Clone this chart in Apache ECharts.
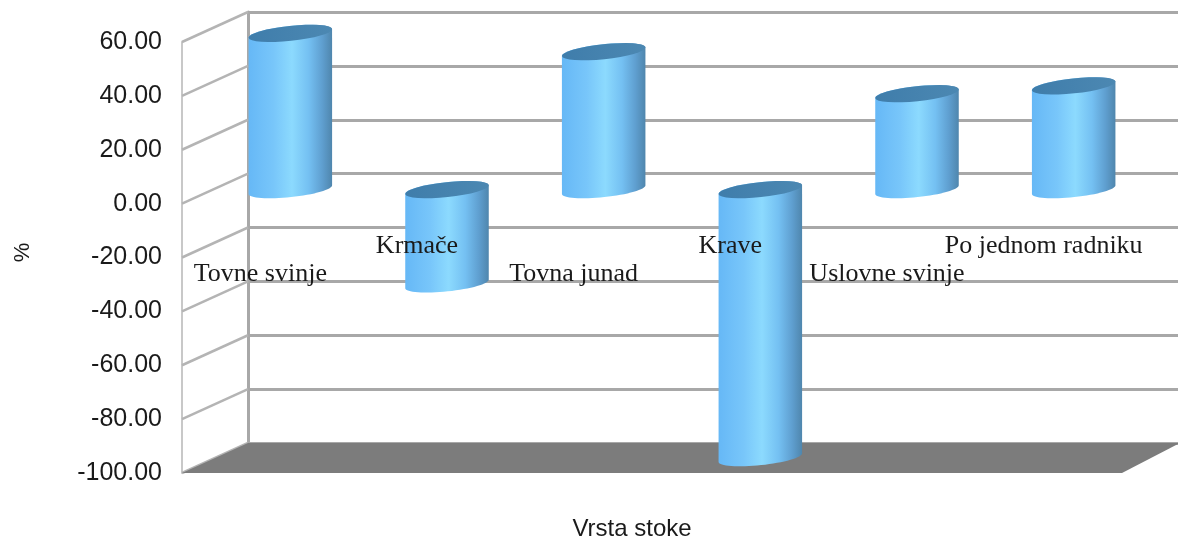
<!DOCTYPE html>
<html>
<head>
<meta charset="utf-8">
<style>
  html, body { margin: 0; padding: 0; background: #fff; }
  #chart { width: 1178px; height: 536px; }
</style>
<script src="https://cdn.jsdelivr.net/npm/echarts@6/dist/echarts.min.js"></script>
</head>
<body>
<div id="chart"></div>
<script>
const categories = ['Tovne svinje', 'Krmače', 'Tovna junad', 'Krave', 'Uslovne svinje', 'Po jednom radniku']
const values = [58, -35, 51.2, -99.5, 35.6, 38.5]
const yTicks = [60, 40, 20, 0, -20, -40, -60, -80, -100]

// 3d look: back wall sits up and right of the front plane, bars halfway
const WALL_DX = 66
const WALL_DY = -30
const BAR_DX = 30
const BAR_DY = -14
const FLOOR_RIGHT_DX = 58

const chart = echarts.init(document.getElementById('chart'))

function ellipsePoints(cx, cy, rx, ry, from, to) {
  const pts = []
  const tilt = -6 * Math.PI / 180
  for (let i = 0; i <= 32; i++) {
    const a = from + (to - from) * i / 32
    const ex = rx * Math.cos(a)
    const ey = ry * Math.sin(a)
    pts.push([cx + ex * Math.cos(tilt) - ey * Math.sin(tilt), cy + ex * Math.sin(tilt) + ey * Math.cos(tilt)])
  }
  return pts
}

function renderCylinder(params, api) {
  const idx = api.value(0)
  const val = api.value(1)
  const top = api.coord([idx, Math.max(val, 0)])
  const bottom = api.coord([idx, Math.min(val, 0)])
  const rx = api.size([1, 0])[0] * 0.268
  const ry = 7.5
  const cx = top[0] + BAR_DX
  const body = ellipsePoints(cx, top[1] + BAR_DY, rx, ry, Math.PI, 2 * Math.PI)
    .concat(ellipsePoints(cx, bottom[1] + BAR_DY, rx, ry, 0, Math.PI))
  return {
    type: 'group',
    children: [
      {
        type: 'polygon',
        shape: { points: body },
        style: {
          fill: new echarts.graphic.LinearGradient(0, 0, 1, 0, [
            { offset: 0, color: '#66b8f6' },
            { offset: 0.3, color: '#78c6fa' },
            { offset: 0.52, color: '#8cdafe' },
            { offset: 0.72, color: '#74c0f2' },
            { offset: 0.88, color: '#5f9fd0' },
            { offset: 1, color: '#4f86ad' },
          ]),
        },
      },
      {
        type: 'polygon',
        shape: { points: ellipsePoints(cx, top[1] + BAR_DY, rx, ry, 0, 2 * Math.PI) },
        style: {
          fill: new echarts.graphic.LinearGradient(0, 0, 1, 0, [
            { offset: 0, color: '#3f7dab' },
            { offset: 1, color: '#4c88b2' },
          ]),
        },
      },
    ],
  }
}

// left edge of the plot, category coords snap to band centres
function leftEdge(api, v) {
  const p = api.coord([0, v])
  return [p[0] - api.size([1, 0])[0] / 2, p[1]]
}

function renderSideLine(params, api) {
  const p = leftEdge(api, api.value(0))
  return {
    type: 'line',
    shape: { x1: p[0], y1: p[1], x2: p[0] + WALL_DX, y2: p[1] + WALL_DY },
    style: { stroke: '#b4b4b4', lineWidth: 2.5 },
  }
}

function renderFloor(params, api) {
  const left = leftEdge(api, -100)
  const right = [left[0] + api.size([1, 0])[0] * categories.length, left[1]]
  return {
    type: 'polygon',
    shape: {
      points: [
        left,
        right,
        [right[0] + FLOOR_RIGHT_DX, right[1] + WALL_DY],
        [left[0] + WALL_DX, left[1] + WALL_DY],
      ],
    },
    style: { fill: '#7c7c7c' },
  }
}

chart.setOption({
  animation: false,
  backgroundColor: '#fff',
  grid: [
    { left: 182, top: 42, width: 940, height: 431, outerBoundsMode: 'none' },
    { left: 182 + WALL_DX, top: 42 + WALL_DY, width: 940, height: 431, outerBoundsMode: 'none' },
  ],
  xAxis: [
    {
      type: 'category',
      gridIndex: 0,
      data: categories,
      z: 10,
      axisLine: { show: false },
      axisTick: { show: false },
      axisLabel: {
        interval: 0,
        // labels sit up inside the plot, two staggered rows
        margin: -241,
        fontFamily: 'Liberation Serif',
        fontSize: 26,
        lineHeight: 28,
        color: '#1a1a1a',
        formatter: (name, i) => (i % 2 === 0 ? '\n' + name : name),
      },
      name: 'Vrsta stoke',
      nameLocation: 'middle',
      nameGap: 44,
      nameTextStyle: { fontFamily: 'Liberation Sans', fontSize: 24, color: '#1a1a1a', padding: [0, 40, 0, 0] },
    },
    {
      type: 'category',
      gridIndex: 1,
      data: categories,
      show: false,
    },
  ],
  yAxis: [
    {
      type: 'value',
      gridIndex: 0,
      min: -100,
      max: 60,
      interval: 20,
      splitLine: { show: false },
      axisTick: { show: false },
      axisLine: { show: true, onZero: false, lineStyle: { color: '#c8c8c8', width: 2 } },
      axisLabel: {
        margin: 20,
        padding: [6, 0, 0, 0],
        fontFamily: 'Liberation Sans',
        fontSize: 25,
        color: '#1a1a1a',
        formatter: v => v.toFixed(2),
      },
      name: '%',
      nameLocation: 'middle',
      nameGap: 148,
      nameRotate: 90,
      nameTextStyle: { fontFamily: 'Liberation Sans', fontSize: 22, color: '#1a1a1a', padding: [0, 0, 0, 10] },
    },
    {
      type: 'value',
      gridIndex: 1,
      min: -100,
      max: 60,
      interval: 20,
      axisLabel: { show: false },
      axisTick: { show: false },
      axisLine: { show: true, onZero: false, lineStyle: { color: '#a8a8a8', width: 3 } },
      splitLine: { show: true, lineStyle: { color: '#a8a8a8', width: 3 } },
    },
  ],
  series: [
    {
      type: 'custom',
      coordinateSystem: 'cartesian2d',
      xAxisIndex: 0,
      yAxisIndex: 0,
      z: 1,
      silent: true,
      renderItem: renderSideLine,
      encode: { y: 0 },
      data: yTicks.map(v => [v]),
    },
    {
      type: 'custom',
      coordinateSystem: 'cartesian2d',
      xAxisIndex: 0,
      yAxisIndex: 0,
      z: 2,
      silent: true,
      renderItem: renderFloor,
      data: [[0, -100]],
    },
    {
      type: 'custom',
      coordinateSystem: 'cartesian2d',
      xAxisIndex: 0,
      yAxisIndex: 0,
      z: 3,
      renderItem: renderCylinder,
      encode: { x: 0, y: 1 },
      data: values.map((v, i) => [i, v]),
    },
  ],
})
</script>
</body>
</html>
